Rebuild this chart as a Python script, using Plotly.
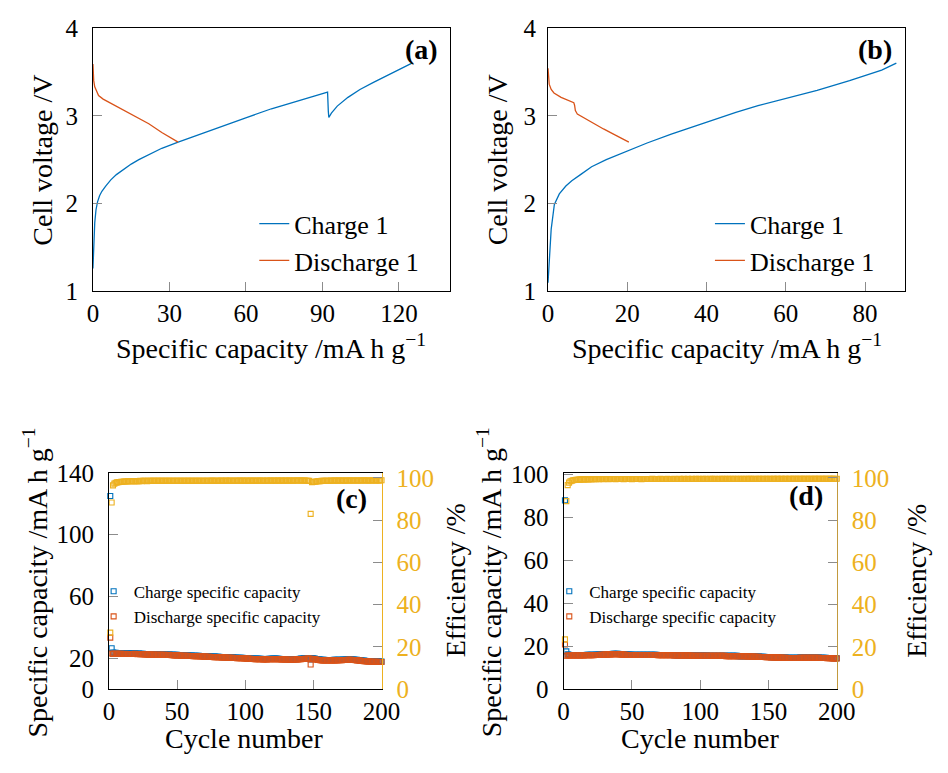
import plotly.graph_objects as go

# ---------------- first-cycle voltage profiles ----------------
a_charge_cap = [0, 0.3, 0.7, 1.2, 1.8, 2.6, 3.5, 5, 7, 9.2, 12, 15, 18, 21.9, 27, 33.4,
                40, 50, 60.2, 70, 80, 92, 92.3, 92.5, 93.5, 95.8, 100, 104.7, 110, 115, 120, 125.1]
a_charge_v = [1.26, 1.55, 1.78, 1.93, 2.02, 2.09, 2.14, 2.20, 2.27, 2.33, 2.39, 2.45, 2.50, 2.56, 2.63, 2.70,
              2.77, 2.88, 2.98, 3.08, 3.17, 3.27, 3.05, 2.98, 3.03, 3.11, 3.21, 3.30, 3.38, 3.45, 3.52, 3.60]
a_dis_cap = [0, 0.1, 0.3, 0.7, 1.3, 2.2, 4, 6.5, 9.2, 13, 17, 21.9, 27, 33.4]
a_dis_v = [3.59, 3.50, 3.40, 3.33, 3.28, 3.23, 3.19, 3.15, 3.11, 3.05, 2.98, 2.91, 2.81, 2.70]

b_charge_cap = [0, 0.3, 0.8, 1.6, 2.85, 4.5, 6, 8.2, 11, 14.7, 20.4, 25, 31.1, 39.3, 47.4,
                53, 59.7, 67.9, 76.1, 80, 84.2, 87.9]
b_charge_v = [1.10, 1.40, 1.71, 1.99, 2.11, 2.20, 2.26, 2.33, 2.42, 2.50, 2.61, 2.69, 2.79, 2.92, 3.04,
              3.115, 3.19, 3.29, 3.40, 3.46, 3.52, 3.60]
b_dis_cap = [0, 0.1, 0.3, 0.8, 1.5, 3.3, 5.0, 6.5, 6.7, 6.9, 7.4, 10, 14, 17, 20.4]
b_dis_v = [3.54, 3.45, 3.36, 3.30, 3.26, 3.21, 3.18, 3.15, 3.12, 3.06, 3.02, 2.95, 2.85, 2.78, 2.70]

# ---------------- cycling data ----------------
cycles = list(range(1, 201))

c_charge = [
    125.0, 26.5, 23.8, 23.6, 23.5, 23.4, 23.4, 23.3, 23.3, 23.2, 23.2, 23.3, 23.2, 23.1, 23.2, 23.2, 23.1, 23.1, 23.2, 23.1,
    23.0, 23.1, 23.0, 22.9, 22.9, 22.8, 22.8, 22.8, 22.7, 22.7, 22.7, 22.6, 22.7, 22.6, 22.6, 22.6, 22.5, 22.5, 22.6, 22.5,
    22.5, 22.4, 22.4, 22.5, 22.4, 22.3, 22.3, 22.2, 22.2, 22.2, 22.1, 22.1, 22.0, 22.0, 22.0, 21.9, 21.9, 21.9, 21.8, 21.8,
    21.8, 21.7, 21.7, 21.7, 21.6, 21.6, 21.5, 21.5, 21.5, 21.4, 21.4, 21.3, 21.3, 21.3, 21.2, 21.2, 21.1, 21.1, 21.0, 21.0,
    21.0, 20.9, 20.9, 20.8, 20.8, 20.8, 20.7, 20.7, 20.6, 20.6, 20.6, 20.5, 20.5, 20.4, 20.4, 20.3, 20.3, 20.3, 20.2, 20.2,
    20.1, 20.1, 20.0, 20.0, 19.9, 19.9, 19.8, 19.8, 19.8, 19.7, 19.7, 19.7, 19.6, 19.6, 19.6, 19.6, 19.7, 19.7, 19.7, 19.8,
    19.8, 19.8, 19.8, 19.7, 19.7, 19.6, 19.6, 19.6, 19.5, 19.5, 19.5, 19.4, 19.4, 19.4, 19.4, 19.5, 19.5, 19.6, 19.6, 19.7,
    19.8, 19.9, 20.0, 20.1, 20.1, 20.2, 20.2, 19.3, 20.1, 20.0, 19.8, 19.6, 19.4, 19.3, 19.2, 19.1, 19.0, 19.0, 18.9, 18.9,
    18.9, 18.9, 18.9, 18.9, 19.0, 19.0, 19.0, 19.1, 19.1, 19.1, 19.1, 19.2, 19.2, 19.2, 19.3, 19.3, 19.3, 19.3, 19.2, 19.2,
    19.1, 19.0, 18.9, 18.8, 18.7, 18.6, 18.5, 18.4, 18.3, 18.3, 18.2, 18.2, 18.1, 18.1, 18.1, 18.0, 18.0, 18.0, 17.9, 17.9,
]
c_discharge = [
    33.4, 23.1, 22.8, 22.9, 22.9, 22.9, 22.9, 22.9, 22.9, 22.8, 22.8, 22.9, 22.8, 22.8, 22.8, 22.8, 22.8, 22.8, 22.9, 22.8,
    22.7, 22.8, 22.7, 22.6, 22.6, 22.5, 22.5, 22.5, 22.4, 22.4, 22.4, 22.3, 22.4, 22.3, 22.3, 22.3, 22.2, 22.2, 22.3, 22.2,
    22.2, 22.1, 22.1, 22.2, 22.1, 22.0, 22.0, 21.9, 21.9, 21.9, 21.8, 21.8, 21.7, 21.7, 21.7, 21.6, 21.6, 21.6, 21.5, 21.5,
    21.5, 21.4, 21.4, 21.4, 21.3, 21.3, 21.2, 21.2, 21.2, 21.1, 21.1, 21.0, 21.0, 21.0, 20.9, 20.9, 20.8, 20.8, 20.7, 20.7,
    20.7, 20.6, 20.6, 20.5, 20.5, 20.5, 20.4, 20.4, 20.3, 20.3, 20.3, 20.2, 20.2, 20.1, 20.1, 20.0, 20.0, 20.0, 19.9, 19.9,
    19.8, 19.8, 19.7, 19.7, 19.6, 19.6, 19.5, 19.5, 19.5, 19.4, 19.4, 19.4, 19.3, 19.3, 19.3, 19.3, 19.4, 19.4, 19.4, 19.5,
    19.5, 19.5, 19.5, 19.4, 19.4, 19.3, 19.3, 19.3, 19.2, 19.2, 19.2, 19.1, 19.1, 19.1, 19.1, 19.2, 19.2, 19.3, 19.3, 19.4,
    19.5, 19.6, 19.6, 19.7, 19.7, 19.8, 19.8, 16.0, 19.7, 19.6, 19.4, 19.2, 19.0, 18.9, 18.8, 18.7, 18.7, 18.7, 18.6, 18.6,
    18.6, 18.6, 18.6, 18.6, 18.7, 18.7, 18.7, 18.8, 18.8, 18.8, 18.8, 18.9, 18.9, 18.9, 19.0, 19.0, 19.0, 19.0, 18.9, 18.9,
    18.8, 18.7, 18.6, 18.5, 18.4, 18.3, 18.2, 18.1, 18.0, 18.0, 17.9, 17.9, 17.8, 17.8, 17.8, 17.7, 17.7, 17.7, 17.6, 17.6,
]
c_eff = [
    26.8, 88.4, 96.5, 97.3, 97.7, 97.9, 98.0, 98.1, 98.2, 98.2, 98.3, 98.3, 98.3, 98.4, 98.4, 98.4, 98.4, 98.5, 98.5, 98.5,
    98.5, 98.5, 98.6, 98.5, 98.6, 98.6, 98.6, 98.5, 98.6, 98.6, 98.7, 98.6, 98.6, 98.7, 98.6, 98.7, 98.6, 98.7, 98.7, 98.6,
    98.7, 98.7, 98.6, 98.7, 98.7, 98.6, 98.7, 98.7, 98.7, 98.6, 98.7, 98.7, 98.7, 98.6, 98.7, 98.7, 98.7, 98.6, 98.7, 98.7,
    98.7, 98.6, 98.7, 98.7, 98.7, 98.7, 98.6, 98.7, 98.7, 98.7, 98.7, 98.6, 98.7, 98.7, 98.7, 98.8, 98.7, 98.7, 98.7, 98.7,
    98.7, 98.8, 98.7, 98.7, 98.7, 98.8, 98.7, 98.7, 98.8, 98.7, 98.7, 98.7, 98.8, 98.7, 98.7, 98.8, 98.7, 98.8, 98.7, 98.7,
    98.8, 98.7, 98.7, 98.8, 98.7, 98.8, 98.7, 98.7, 98.8, 98.7, 98.8, 98.7, 98.8, 98.7, 98.7, 98.8, 98.7, 98.8, 98.8, 98.7,
    98.8, 98.7, 98.8, 98.8, 98.7, 98.8, 98.8, 98.7, 98.8, 98.8, 98.7, 98.8, 98.8, 98.8, 98.7, 98.8, 98.8, 98.8, 98.8, 98.8,
    98.8, 98.8, 98.8, 98.8, 98.7, 98.7, 98.6, 83.0, 98.0, 98.1, 98.2, 98.3, 98.4, 98.5, 98.5, 98.6, 98.6, 98.7, 98.7, 98.7,
    98.7, 98.7, 98.8, 98.7, 98.8, 98.8, 98.8, 98.7, 98.8, 98.8, 98.8, 98.8, 98.7, 98.8, 98.8, 98.8, 98.8, 98.8, 98.8, 98.8,
    98.8, 98.8, 98.8, 98.8, 98.8, 98.8, 98.9, 98.8, 98.8, 98.8, 98.8, 98.8, 98.8, 98.9, 98.8, 98.8, 98.8, 98.8, 98.8, 98.9,
]

d_charge = [
    87.8, 17.6, 16.2, 16.0, 15.9, 15.9, 15.9, 15.9, 15.9, 15.9, 15.9, 15.9, 15.9, 15.9, 15.9, 15.9, 16.0, 16.0, 16.0, 16.0,
    16.0, 16.0, 16.0, 16.1, 16.1, 16.1, 16.1, 16.2, 16.2, 16.3, 16.3, 16.3, 16.4, 16.4, 16.4, 16.5, 16.5, 16.5, 16.5, 16.5,
    16.4, 16.4, 16.3, 16.3, 16.2, 16.2, 16.1, 16.1, 16.1, 16.0, 16.0, 16.0, 16.0, 16.0, 16.0, 16.0, 16.0, 16.0, 16.0, 16.0,
    16.0, 16.0, 16.0, 16.0, 16.0, 16.0, 16.0, 16.0, 15.9, 15.9, 15.9, 15.9, 15.9, 15.9, 15.9, 15.9, 15.9, 15.9, 15.9, 15.9,
    15.8, 15.8, 15.8, 15.8, 15.8, 15.8, 15.8, 15.8, 15.8, 15.8, 15.8, 15.8, 15.8, 15.7, 15.7, 15.7, 15.7, 15.7, 15.7, 15.7,
    15.7, 15.7, 15.7, 15.7, 15.7, 15.6, 15.6, 15.6, 15.6, 15.6, 15.6, 15.6, 15.6, 15.6, 15.6, 15.6, 15.6, 15.6, 15.5, 15.5,
    15.5, 15.5, 15.5, 15.5, 15.5, 15.5, 15.5, 15.4, 15.4, 15.4, 15.4, 15.4, 15.4, 15.3, 15.3, 15.3, 15.3, 15.3, 15.3, 15.2,
    15.2, 15.2, 15.2, 15.1, 15.1, 15.1, 15.1, 15.0, 15.0, 15.0, 15.0, 14.9, 14.9, 14.9, 14.9, 14.8, 14.8, 14.8, 14.8, 14.7,
    14.7, 14.7, 14.7, 14.6, 14.6, 14.6, 14.6, 14.6, 14.6, 14.6, 14.6, 14.6, 14.7, 14.7, 14.7, 14.7, 14.7, 14.7, 14.7, 14.7,
    14.7, 14.7, 14.7, 14.7, 14.7, 14.7, 14.7, 14.6, 14.6, 14.6, 14.6, 14.6, 14.5, 14.5, 14.5, 14.5, 14.4, 14.4, 14.4, 14.4,
]
d_discharge = [
    20.8, 15.6, 15.7, 15.7, 15.7, 15.7, 15.7, 15.7, 15.7, 15.7, 15.7, 15.7, 15.7, 15.7, 15.7, 15.8, 15.8, 15.8, 15.8, 15.8,
    15.8, 15.8, 15.9, 15.9, 15.9, 15.9, 16.0, 16.0, 16.0, 16.1, 16.1, 16.1, 16.2, 16.2, 16.2, 16.3, 16.3, 16.3, 16.3, 16.3,
    16.2, 16.2, 16.1, 16.1, 16.0, 16.0, 15.9, 15.9, 15.9, 15.9, 15.9, 15.9, 15.9, 15.9, 15.9, 15.9, 15.9, 15.9, 15.9, 15.9,
    15.9, 15.9, 15.9, 15.9, 15.9, 15.9, 15.9, 15.9, 15.8, 15.8, 15.8, 15.8, 15.8, 15.8, 15.8, 15.8, 15.8, 15.8, 15.8, 15.8,
    15.7, 15.7, 15.7, 15.7, 15.7, 15.7, 15.7, 15.7, 15.7, 15.7, 15.7, 15.7, 15.7, 15.6, 15.6, 15.6, 15.6, 15.6, 15.6, 15.6,
    15.6, 15.6, 15.6, 15.6, 15.6, 15.5, 15.5, 15.5, 15.5, 15.5, 15.5, 15.5, 15.5, 15.5, 15.5, 15.5, 15.5, 15.5, 15.4, 15.4,
    15.4, 15.4, 15.4, 15.4, 15.4, 15.4, 15.4, 15.3, 15.3, 15.3, 15.3, 15.3, 15.3, 15.2, 15.2, 15.2, 15.2, 15.2, 15.2, 15.1,
    15.1, 15.1, 15.1, 15.0, 15.0, 15.0, 15.0, 14.9, 14.9, 14.9, 14.9, 14.8, 14.8, 14.8, 14.8, 14.7, 14.7, 14.7, 14.7, 14.6,
    14.6, 14.6, 14.6, 14.5, 14.5, 14.5, 14.5, 14.5, 14.5, 14.5, 14.5, 14.5, 14.6, 14.6, 14.6, 14.6, 14.6, 14.6, 14.6, 14.6,
    14.6, 14.6, 14.6, 14.6, 14.6, 14.6, 14.6, 14.5, 14.5, 14.5, 14.5, 14.5, 14.4, 14.4, 14.4, 14.4, 14.3, 14.3, 14.3, 14.3,
]
d_eff = [
    23.6, 89.0, 96.6, 97.8, 98.4, 98.7, 98.9, 99.0, 99.1, 99.1, 99.2, 99.2, 99.3, 99.3, 99.3, 99.3, 99.4, 99.3, 99.4, 99.4,
    99.4, 99.4, 99.5, 99.4, 99.5, 99.4, 99.5, 99.5, 99.4, 99.5, 99.5, 99.5, 99.4, 99.5, 99.5, 99.5, 99.5, 99.4, 99.5, 99.5,
    99.5, 99.5, 99.5, 99.4, 99.5, 99.5, 99.5, 99.5, 99.5, 99.4, 99.5, 99.5, 99.5, 99.5, 99.5, 99.5, 99.4, 99.5, 99.5, 99.5,
    99.5, 99.5, 99.5, 99.5, 99.6, 99.5, 99.5, 99.5, 99.5, 99.5, 99.6, 99.5, 99.5, 99.5, 99.5, 99.6, 99.5, 99.5, 99.5, 99.5,
    99.6, 99.5, 99.5, 99.5, 99.6, 99.5, 99.5, 99.6, 99.5, 99.5, 99.6, 99.5, 99.5, 99.6, 99.5, 99.5, 99.6, 99.5, 99.6, 99.5,
    99.5, 99.6, 99.5, 99.6, 99.5, 99.5, 99.6, 99.5, 99.6, 99.5, 99.6, 99.5, 99.5, 99.6, 99.5, 99.6, 99.5, 99.6, 99.5, 99.6,
    99.5, 99.6, 99.5, 99.6, 99.5, 99.6, 99.5, 99.6, 99.5, 99.6, 99.5, 99.6, 99.5, 99.6, 99.5, 99.6, 99.6, 99.5, 99.6, 99.5,
    99.6, 99.5, 99.6, 99.6, 99.5, 99.6, 99.5, 99.6, 99.6, 99.5, 99.6, 99.5, 99.6, 99.6, 99.5, 99.6, 99.6, 99.5, 99.6, 99.6,
    99.5, 99.6, 99.6, 99.5, 99.6, 99.6, 99.5, 99.6, 99.6, 99.6, 99.5, 99.6, 99.6, 99.6, 99.5, 99.6, 99.6, 99.6, 99.5, 99.6,
    99.6, 99.6, 99.5, 99.6, 99.6, 99.6, 99.6, 99.5, 99.6, 99.6, 99.6, 99.6, 99.5, 99.6, 99.6, 99.6, 99.6, 99.6, 99.5, 99.6,
]

BLUE = "#0072BD"
ORANGE = "#D95319"
YELLOW = "#EDB120"
FONT = "Liberation Serif, Times New Roman, serif"
W, H = 948, 773


def px(x):
    return x / W


def py(y):
    return 1 - y / H


fig = go.Figure()

# (a) / (b) voltage curves
for xa, ya, leg, series in [
    ("x", "y", "legend", [(a_charge_cap, a_charge_v, BLUE, "Charge 1"), (a_dis_cap, a_dis_v, ORANGE, "Discharge 1")]),
    ("x2", "y2", "legend2", [(b_charge_cap, b_charge_v, BLUE, "Charge 1"), (b_dis_cap, b_dis_v, ORANGE, "Discharge 1")]),
]:
    for xs, ys, col, name in series:
        fig.add_trace(go.Scatter(x=xs, y=ys, mode="lines", name=name, xaxis=xa, yaxis=ya,
                                 line=dict(color=col, width=1.3), legend=leg))

# (c) / (d) cycling
for xa, ya, ya2, leg, ch, dis, eff in [
    ("x3", "y3", "y5", "legend3", c_charge, c_discharge, c_eff),
    ("x4", "y4", "y6", "legend4", d_charge, d_discharge, d_eff),
]:
    mk = dict(symbol="square-open", size=5)
    fig.add_trace(go.Scatter(x=cycles, y=ch, mode="markers", name="Charge specific capacity",
                             xaxis=xa, yaxis=ya, legend=leg, cliponaxis=False,
                             marker=dict(color=BLUE, line=dict(width=1.1, color=BLUE), **mk)))
    fig.add_trace(go.Scatter(x=cycles, y=dis, mode="markers", name="Discharge specific capacity",
                             xaxis=xa, yaxis=ya, legend=leg, cliponaxis=False,
                             marker=dict(color=ORANGE, line=dict(width=1.1, color=ORANGE), **mk)))
    fig.add_trace(go.Scatter(x=cycles, y=eff, mode="markers", name="Efficiency", showlegend=False,
                             xaxis=xa, yaxis=ya2, cliponaxis=False,
                             marker=dict(color=YELLOW, line=dict(width=1.1, color=YELLOW), **mk)))

tickfont = dict(family=FONT, size=25, color="black")
common = dict(showline=True, linecolor="black", linewidth=1, ticks="inside", ticklen=9,
              tickcolor="#8c8c8c", tickwidth=1, showgrid=False, zeroline=False, tickfont=tickfont)
ycommon = {**common, "ticklabelstandoff": 9}
rcommon = {**common, "ticklabelstandoff": 9, "tickfont": dict(family=FONT, size=25, color=YELLOW)}

dom_ab_y = [py(288.5), py(15.5)]
dom_cd_y = [py(700.7), py(476.5)]

fig.update_layout(
    width=W, height=H, margin=dict(l=0, r=0, t=0, b=0),
    paper_bgcolor="white", plot_bgcolor="white",
    font=dict(family=FONT, color="black"),
    xaxis=dict(domain=[px(89.3), px(456)], range=[0, 140], tickvals=[0, 30, 60, 90, 120],
               anchor="y", mirror=True, **common),
    yaxis=dict(domain=dom_ab_y, range=[1, 4], tickvals=[1, 2, 3, 4], anchor="x", mirror=True, **ycommon),
    xaxis2=dict(domain=[px(556.7), px(923)], range=[0, 90], tickvals=[0, 20, 40, 60, 80],
                anchor="y2", mirror=True, **common),
    yaxis2=dict(domain=dom_ab_y, range=[1, 4], tickvals=[1, 2, 3, 4], anchor="x2", mirror=True,
                **{**ycommon, "ticklabelstandoff": 6}),
    xaxis3=dict(domain=[px(105.7), px(385.7)], range=[0, 200], tickvals=[0, 50, 100, 150, 200],
                anchor="y3", mirror=True, **common),
    yaxis3=dict(domain=dom_cd_y, range=[0, 140], tickvals=[0, 20, 60, 100, 140], anchor="x3", **ycommon),
    yaxis5=dict(domain=dom_cd_y, range=[0, 102.4], tickvals=[0, 20, 40, 60, 80, 100], anchor="x3",
                overlaying="y3", side="right", **{**rcommon, "linecolor": YELLOW}),
    xaxis4=dict(domain=[px(572.7), px(853.3)], range=[0, 200], tickvals=[0, 50, 100, 150, 200],
                anchor="y4", mirror=True, **common),
    yaxis4=dict(domain=dom_cd_y, range=[0, 100.6], tickvals=[0, 20, 40, 60, 80, 100], anchor="x4", **ycommon),
    yaxis6=dict(domain=dom_cd_y, range=[0, 102.4], tickvals=[0, 20, 40, 60, 80, 100], anchor="x4",
                overlaying="y4", side="right", **{**rcommon, "linecolor": "#C29A3E"}),
    legend=dict(x=px(255), y=py(194), xanchor="left", yanchor="top", bgcolor="rgba(0,0,0,0)",
                font=dict(family=FONT, size=26), tracegroupgap=0, itemwidth=30),
    legend2=dict(x=px(723), y=py(194), xanchor="left", yanchor="top", bgcolor="rgba(0,0,0,0)",
                 font=dict(family=FONT, size=26), tracegroupgap=0, itemwidth=30),
    legend3=dict(x=px(90), y=py(581), xanchor="left", yanchor="top", bgcolor="rgba(0,0,0,0)",
                 font=dict(family=FONT, size=17), tracegroupgap=0, itemwidth=30),
    legend4=dict(x=px(558), y=py(581), xanchor="left", yanchor="top", bgcolor="rgba(0,0,0,0)",
                 font=dict(family=FONT, size=17), tracegroupgap=0, itemwidth=30),
)

title_font = dict(family=FONT, size=28, color="black")
cap_title = "Specific capacity /mA h g<sup>\u22121</sup>"
annotations = [
    # axis titles
    dict(x=px(38), y=py(152), text="Cell voltage /V", textangle=-90),
    dict(x=px(505), y=py(152), text="Cell voltage /V", textangle=-90),
    dict(x=px(272), y=py(346), text=cap_title),
    dict(x=px(741), y=py(346), text=cap_title),
    dict(x=px(30), y=py(590), text=cap_title, textangle=-90),
    dict(x=px(497), y=py(590), text=cap_title, textangle=-90),
    dict(x=px(462), y=py(588), text="Efficiency /%", textangle=-90),
    dict(x=px(935), y=py(588), text="Efficiency /%", textangle=-90),
    dict(x=px(245), y=py(752), text="Cycle number"),
    dict(x=px(713), y=py(752), text="Cycle number"),
    # panel tags
    dict(x=px(427), y=py(38), text="<b>(a)</b>"),
    dict(x=px(893), y=py(38), text="<b>(b)</b>"),
    dict(x=px(355), y=py(503), text="<b>(c)</b>"),
    dict(x=px(822), y=py(500), text="<b>(d)</b>"),
]
for a in annotations:
    a.update(xref="paper", yref="paper", showarrow=False, xanchor="center", yanchor="middle",
             font=title_font)
fig.update_layout(annotations=annotations)

fig.write_html("out.html")
